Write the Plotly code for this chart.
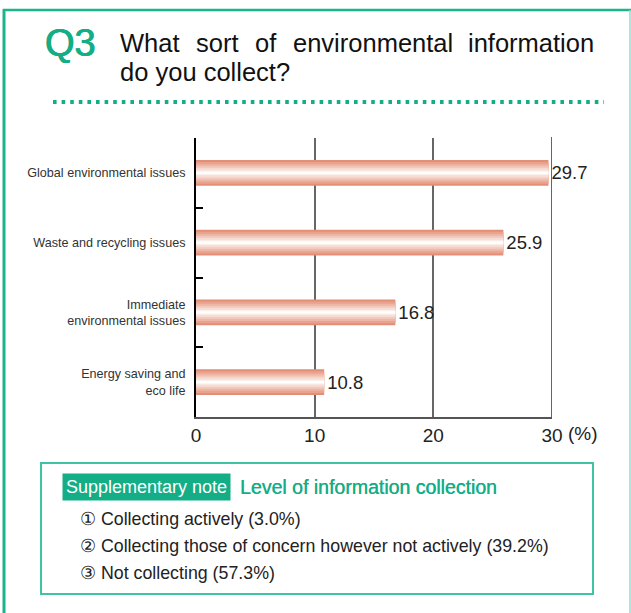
import plotly.graph_objects as go

# Survey results: sources of environmental information (%)
categories = [
    "Global environmental issues",
    "Waste and recycling issues",
    "Immediate<br>environmental issues",
    "Energy saving and<br>eco life",
]
values = [29.7, 25.9, 16.8, 10.8]
value_labels = ["29.7", "25.9", "16.8", "10.8"]
x_ticks = [0, 10, 20, 30]

title_words = ["What", "sort", "of", "environmental", "information"]
title_line2 = "do you collect?"
note_tag = "Supplementary note"
note_head = "Level of information collection"
note_items = [
    "① Collecting actively (3.0%)",
    "② Collecting those of concern however not actively (39.2%)",
    "③ Not collecting (57.3%)",
]

W, H = 631, 613
L, R, T, B = 196, 552, 138, 417   # plot area in pixels
FONT = "Liberation Sans, Arial, sans-serif"
GREEN = "#14ae86"


def px(x):
    return (x - L) / (R - L)


def py(y):
    return (B - y) / (B - T)


fig = go.Figure()

# Bars with a soft horizontal highlight: stacked layers, lighter toward the middle
layers = [
    (0.37, "#e38f78"),
    (0.31, "#e8a28d"),
    (0.25, "#edb6a5"),
    (0.19, "#f2c9bc"),
    (0.13, "#f7ddd4"),
    (0.07, "#fcf0eb"),
    (0.03, "#ffffff"),
]
for i, (w, c) in enumerate(layers):
    fig.add_trace(go.Bar(
        x=values, y=categories, orientation="h", width=w,
        marker=dict(color=c, line=dict(width=0)),
        text=value_labels if i == 0 else None,
        textposition="outside" if i == 0 else "none",
        textfont=dict(size=18.5, color="#222", family=FONT),
        cliponaxis=False, hoverinfo="skip", showlegend=False,
    ))

fig.update_layout(
    width=W, height=H,
    margin=dict(l=L, r=W - R, t=T, b=H - B),
    paper_bgcolor="white", plot_bgcolor="white",
    barmode="overlay",
    font=dict(family=FONT, color="#222"),
    xaxis=dict(
        range=[x_ticks[0], x_ticks[-1]], tickvals=x_ticks,
        ticktext=[str(v) for v in x_ticks],
        showgrid=True, gridcolor="#666", gridwidth=1.5,
        showline=True, linecolor="#555", linewidth=2,
        ticks="", tickfont=dict(size=19, color="#222"), zeroline=False,
    ),
    yaxis=dict(
        categoryorder="array", categoryarray=categories, autorange="reversed",
        showline=True, linecolor="black", linewidth=2,
        ticks="inside", tickson="boundaries", ticklen=7, tickwidth=2, tickcolor="black",
        tickfont=dict(size=12.6, color="#333"), ticklabelstandoff=6,
        showgrid=False, zeroline=False,
    ),
)

ann = []
# percent unit after the last x tick
ann.append(dict(x=x_ticks[-1], y=0, xref="x", yref="paper", text="(%)", showarrow=False,
                xanchor="left", yanchor="top", xshift=14, yshift=-4,
                font=dict(size=19, color="#222")))

# Question heading
ann.append(dict(x=px(43), y=py(43), xref="paper", yref="paper", text="Q3",
                showarrow=False, xanchor="left", yanchor="middle",
                font=dict(size=38, color=GREEN,
                          shadow=f"0.5px 0 0 {GREEN}, -0.5px 0 0 {GREEN}")))
word_x = [118, 194, 253, 290.5, 466]
for wx, wd in zip(word_x, title_words):
    ann.append(dict(x=px(wx), y=py(43), xref="paper", yref="paper", text=wd,
                    showarrow=False, xanchor="left", yanchor="middle",
                    font=dict(size=25.5, color="#111")))
ann.append(dict(x=px(118), y=py(72), xref="paper", yref="paper", text=title_line2,
                showarrow=False, xanchor="left", yanchor="middle",
                font=dict(size=25.5, color="#111")))

# Supplementary note box contents
ann.append(dict(x=px(62), y=py(487), xref="paper", yref="paper", text=note_tag,
                showarrow=False, xanchor="left", yanchor="middle",
                bgcolor=GREEN, borderpad=3,
                font=dict(size=18, color="white")))
ann.append(dict(x=px(238), y=py(487), xref="paper", yref="paper", text=note_head,
                showarrow=False, xanchor="left", yanchor="middle",
                font=dict(size=19.5, color=GREEN,
                          shadow=f"0.3px 0 0 {GREEN}")))
for k, item in enumerate(note_items):
    ann.append(dict(x=px(78), y=py(519 + 27 * k), xref="paper", yref="paper", text=item,
                    showarrow=False, xanchor="left", yanchor="middle",
                    font=dict(size=17.8, color="#222")))
fig.update_layout(annotations=ann)

shapes = []
# right edge of the value scale, drawn like the gridlines (beneath the bars)
shapes.append(dict(type="line", xref="x", yref="paper", layer="below",
                   x0=x_ticks[-1], x1=x_ticks[-1], y0=0, y1=1.004,
                   line=dict(color="#555", width=1.8)))
# outer frame
shapes.append(dict(type="line", xref="paper", yref="paper",
                   x0=px(3), x1=px(631), y0=py(10), y1=py(10),
                   line=dict(color="#1bb58c", width=2.5)))
shapes.append(dict(type="line", xref="paper", yref="paper",
                   x0=px(4), x1=px(4), y0=py(9), y1=py(613),
                   line=dict(color="#1bb58c", width=3)))
shapes.append(dict(type="line", xref="paper", yref="paper",
                   x0=px(630), x1=px(630), y0=py(10), y1=py(613),
                   line=dict(color="#8fdfcb", width=1.5)))
# dotted rule under the heading
shapes.append(dict(type="line", xref="paper", yref="paper",
                   x0=px(53), x1=px(604), y0=py(102), y1=py(102),
                   line=dict(color=GREEN, width=4, dash="3.6px,5px")))
# note box
shapes.append(dict(type="rect", xref="paper", yref="paper",
                   x0=px(41), x1=px(593), y0=py(463), y1=py(594),
                   line=dict(color="#3fc3a4", width=2)))
fig.update_layout(shapes=shapes)

fig.write_html("out.html")
